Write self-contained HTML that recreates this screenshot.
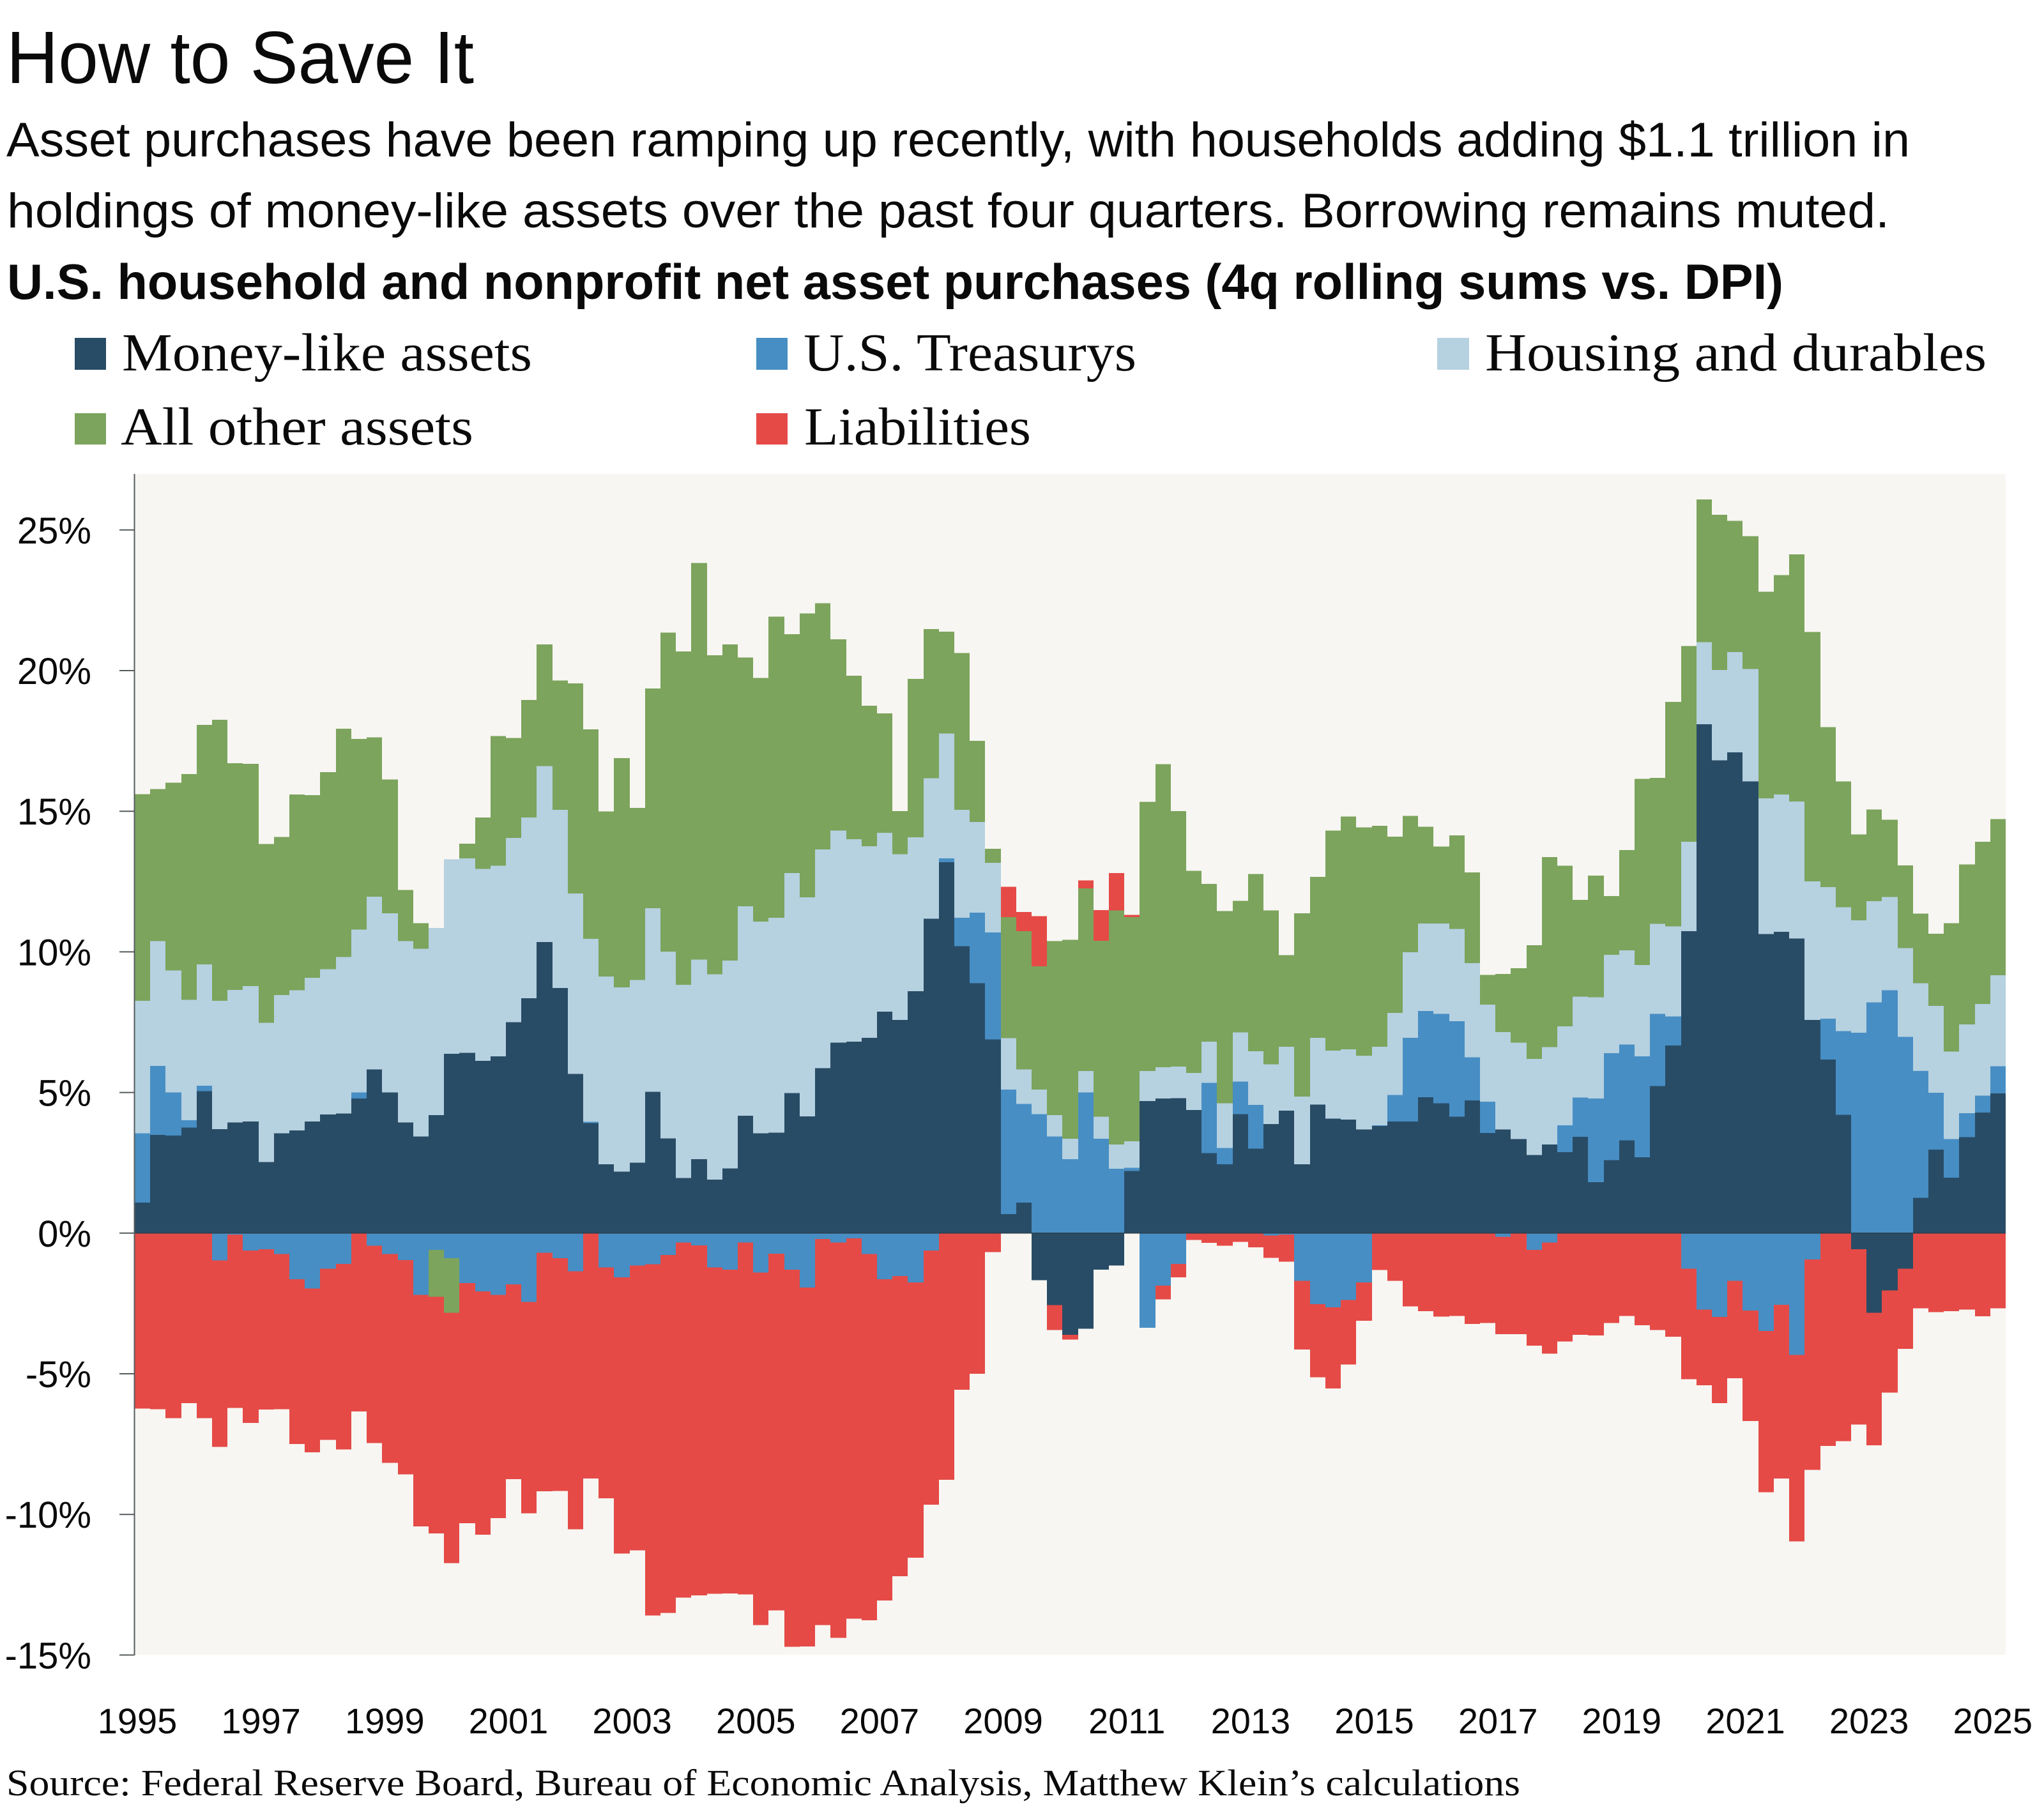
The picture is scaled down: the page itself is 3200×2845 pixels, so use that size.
<!DOCTYPE html>
<html lang="en">
<head>
<meta charset="utf-8">
<title>How to Save It</title>
<style>
html,body{margin:0;padding:0;background:#fff;}
svg{display:block;}
.sans{font-family:"Liberation Sans",sans-serif;fill:#0a0a0a;}
.serif{font-family:"Liberation Serif",serif;fill:#0a0a0a;}
</style>
</head>
<body>
<svg id="chart" xmlns="http://www.w3.org/2000/svg" width="3200" height="2845" viewBox="0 0 3200 2845">
  <rect x="0" y="0" width="3200" height="2845" fill="#ffffff"/>
  <text class="sans" x="10" y="130" font-size="116" textLength="732" lengthAdjust="spacingAndGlyphs">How to Save It</text>
  <text class="sans" x="10" y="245" font-size="76" textLength="2980" lengthAdjust="spacingAndGlyphs">Asset purchases have been ramping up recently, with households adding $1.1 trillion in</text>
  <text class="sans" x="11" y="356" font-size="76" textLength="2947" lengthAdjust="spacingAndGlyphs">holdings of money-like assets over the past four quarters. Borrowing remains muted.</text>
  <text class="sans" x="11" y="468" font-size="78" font-weight="700" textLength="2781" lengthAdjust="spacingAndGlyphs">U.S. household and nonprofit net asset purchases (4q rolling sums vs. DPI)</text>

  <g>
    <g>
      <rect x="117" y="529" width="49" height="50" fill="#294c66"/>
      <text class="serif" x="191" y="580" font-size="84" textLength="642" lengthAdjust="spacingAndGlyphs">Money-like assets</text>
    </g>
    <g>
      <rect x="1184" y="529" width="49" height="50" fill="#478ec4"/>
      <text class="serif" x="1258" y="580" font-size="84" textLength="521" lengthAdjust="spacingAndGlyphs">U.S. Treasurys</text>
    </g>
    <g>
      <rect x="2250" y="529" width="50" height="50" fill="#b6d1e0"/>
      <text class="serif" x="2325" y="580" font-size="84" textLength="785" lengthAdjust="spacingAndGlyphs">Housing and durables</text>
    </g>
    <g>
      <rect x="117" y="647" width="49" height="49" fill="#7ca45c"/>
      <text class="serif" x="189" y="696" font-size="84" textLength="552" lengthAdjust="spacingAndGlyphs">All other assets</text>
    </g>
    <g>
      <rect x="1184" y="647" width="49" height="49" fill="#e54a46"/>
      <text class="serif" x="1259" y="696" font-size="84" textLength="355" lengthAdjust="spacingAndGlyphs">Liabilities</text>
    </g>
  </g>

  <rect x="211" y="742" width="2929" height="1849" fill="#f7f6f2"/>
  <g id="bars" shape-rendering="crispEdges"></g>
  <g id="axes"></g>

  <text class="serif" x="10" y="2811" font-size="58" textLength="2370" lengthAdjust="spacingAndGlyphs">Source: Federal Reserve Board, Bureau of Economic Analysis, Matthew Klein’s calculations</text>
</svg>
<script>
const firstYear = 1995;
const quartersPerYear = 4;
const xTickYears = [1995,1997,1999,2001,2003,2005,2007,2009,2011,2013,2015,2017,2019,2021,2023,2025];
const yTickValues = [25,20,15,10,5,0,-5,-10,-15];

const moneyLike = [
1.09,3.49,3.47,3.75,5.05,3.70,3.93,3.97,2.53,3.55,
3.65,3.97,4.22,4.25,4.79,5.82,5.00,3.94,3.44,4.20,
6.38,6.41,6.13,6.28,7.50,8.35,10.35,8.71,5.66,3.91,
2.45,2.19,2.51,5.03,3.37,1.96,2.63,1.90,2.30,4.17,
3.55,3.57,4.98,4.15,5.86,6.77,6.81,6.94,7.88,7.58,
8.60,11.18,13.19,10.20,8.89,6.89,0.68,1.09,-1.67,-2.56,
-3.62,-3.40,-1.30,-1.15,2.21,4.70,4.79,4.80,4.38,2.85,
2.45,4.23,3.00,3.88,4.35,2.45,4.57,4.07,4.04,3.68,
3.81,3.97,3.97,4.83,4.62,4.14,4.72,3.56,3.69,3.35,
2.78,3.15,2.88,3.43,1.81,2.60,3.30,2.70,5.23,6.67,
10.74,18.09,16.81,17.09,16.06,10.63,10.71,10.47,7.58,6.17,
4.21,-0.57,-2.83,-2.04,-1.26,1.26,2.97,1.97,3.41,4.29,4.97];

const treasurys = [
2.46,2.45,1.53,0.26,0.19,-0.97,-0.05,-0.62,-0.57,-0.74,
-1.64,-1.97,-1.27,-1.09,0.21,-0.45,-0.74,-0.96,-2.19,-0.60,
-0.89,-1.78,-2.07,-2.19,-1.82,-2.44,-0.70,-0.89,-1.36,0.05,
-1.22,-1.57,-1.15,-1.11,-0.78,-0.33,-0.44,-1.22,-1.30,-0.33,
-1.40,-0.73,-1.30,-1.93,-0.21,-0.33,-0.19,-0.74,-1.64,-1.53,
-1.75,-0.62,0.13,1.01,2.51,3.80,4.43,3.50,4.23,3.44,
2.63,5.00,3.36,2.29,0.11,-3.37,-1.87,-1.10,0,2.49,
0.58,1.16,1.56,-0.08,-0.05,-1.70,-2.53,-2.64,-2.38,-1.75,
0.02,0.94,2.97,3.07,3.17,3.39,1.53,1.11,-0.13,0,
-0.60,-0.33,0.95,1.39,2.98,3.80,3.41,3.58,2.56,1.03,
-1.26,-2.72,-2.98,-1.70,-2.75,-3.48,-2.55,-4.33,-0.94,1.46,
2.97,7.13,8.20,8.64,6.98,4.52,2.02,1.38,0.86,0.60,0.96];

const housingDurables = [
4.71,4.44,4.34,4.28,4.32,4.56,4.72,4.81,4.95,4.92,
4.98,5.11,5.17,5.57,5.79,6.14,6.37,6.44,6.67,6.65,
6.91,6.91,6.82,6.78,6.55,6.43,6.25,6.34,6.41,6.50,
6.67,6.55,6.49,6.52,6.64,6.87,7.10,7.30,7.39,7.45,
7.53,7.64,7.82,7.79,7.78,7.54,7.19,6.82,6.35,5.89,
5.47,4.99,4.44,3.84,3.22,2.47,1.82,1.23,0.88,0.76,
0.73,0.76,0.78,0.86,0.94,1.06,1.11,1.12,1.31,1.47,
1.59,1.75,1.91,2.12,2.28,2.40,2.37,2.42,2.50,2.63,
2.80,2.92,3.05,3.11,3.22,3.29,3.35,3.45,3.46,3.42,
3.41,3.46,3.52,3.59,3.60,3.50,3.34,3.25,3.21,3.21,
3.18,2.92,3.21,3.57,4.00,4.83,4.88,4.88,4.93,4.67,
4.41,3.99,3.60,3.31,3.15,3.10,3.09,3.11,3.15,3.26,3.24];

const otherAssets = [
7.35,5.41,6.67,8.03,8.51,9.99,8.06,7.91,6.36,5.61,
6.96,6.49,7.00,8.11,6.78,5.67,4.76,1.82,0.91,-1.66,
-1.94,0.53,1.83,4.61,3.55,4.17,4.33,4.60,7.48,7.45,
5.87,8.15,6.12,7.82,11.34,11.85,14.10,11.35,11.24,8.85,
8.66,10.71,8.50,10.09,8.75,6.80,5.82,4.99,4.25,1.54,
5.64,5.31,3.62,5.57,2.88,0.50,4.30,4.92,4.38,6.18,
7.07,6.50,6.26,8.32,7.98,9.57,10.77,9.08,7.19,5.61,
6.83,4.68,6.30,5.47,3.25,6.52,5.73,7.82,8.27,8.11,
7.85,6.27,4.84,3.44,2.74,3.32,3.23,1.06,2.06,2.65,
4.05,6.76,5.71,3.44,4.32,2.09,3.57,6.62,5.19,7.98,
6.95,5.08,5.52,4.67,4.72,7.35,7.81,8.78,8.86,5.69,
4.47,3.06,3.26,2.75,2.95,2.48,2.57,4.56,5.69,5.77,5.55];

const liabilities = [
-6.24,-6.26,-6.58,-6.04,-6.58,-6.63,-6.16,-6.13,-5.70,-5.52,
-5.86,-5.82,-6.08,-6.60,-6.34,-7.01,-7.43,-7.62,-8.24,-8.42,
-8.90,-8.53,-8.65,-7.94,-6.93,-7.52,-8.48,-8.28,-9.17,-8.72,
-8.21,-9.82,-10.13,-12.49,-12.72,-12.63,-12.44,-11.60,-11.51,-12.52,
-12.53,-12.68,-13.41,-12.76,-13.72,-14.06,-13.52,-13.02,-11.42,-10.67,
-9.79,-9.03,-8.77,-5.57,-5.00,-0.67,1.08,0.68,1.78,-0.89,
-0.17,0.28,1.08,1.33,0.07,0,-0.49,-0.47,-0.24,-0.34,
-0.45,-0.31,-0.50,-0.80,-0.96,-2.44,-2.60,-2.88,-2.29,-1.36,
-1.31,-1.70,-2.61,-2.77,-2.97,-2.94,-3.23,-3.20,-3.46,-3.59,
-3.40,-3.95,-3.85,-3.61,-3.64,-3.19,-2.94,-3.27,-3.44,-3.68,
-3.93,-2.69,-3.06,-3.46,-3.93,-5.73,-6.17,-6.63,-7.48,-7.57,
-7.39,-6.23,-4.71,-3.63,-2.86,-2.67,-2.81,-2.78,-2.72,-2.96,-2.67];

const seriesNames = ['money-like-assets','treasurys','housing-and-durables','other-assets','liabilities'];
const seriesValues = [moneyLike, treasurys, housingDurables, otherAssets, liabilities];
const seriesColors = ['#294c66','#478ec4','#b6d1e0','#7ca45c','#e54a46'];

const SVG_NS = 'http://www.w3.org/2000/svg';
const plotLeft = 211, plotRight = 3140, plotTop = 742, plotBottom = 2591;
const zeroY = 1930.8, pxPerPercent = 44.04;
const barStep = (plotRight - plotLeft) / moneyLike.length;

function xScale(index) { return plotLeft + index * barStep; }
function yScale(value) { return zeroY - value * pxPerPercent; }

const barsGroup = document.getElementById('bars');
const axesGroup = document.getElementById('axes');

seriesValues.forEach(function (values, s) {
  const group = document.createElementNS(SVG_NS, 'g');
  
  
  group.setAttribute('fill', seriesColors[s]);
  barsGroup.appendChild(group);
  values.forEach(function (value, i) {
    if (!value) return;
    let base = 0;
    for (let k = 0; k < s; k++) {
      const below = seriesValues[k][i];
      if ((below > 0) === (value > 0)) base += below;
    }
    const y0 = yScale(base);
    const y1 = yScale(base + value);
    const x0 = Math.round(xScale(i));
    const x1 = Math.round(xScale(i + 1));
    const rect = document.createElementNS(SVG_NS, 'rect');
    rect.setAttribute('x', x0);
    rect.setAttribute('width', x1 - x0);
    rect.setAttribute('y', Math.min(y0, y1).toFixed(2));
    rect.setAttribute('height', Math.abs(y1 - y0).toFixed(2));
    
    
    group.appendChild(rect);
  });
});

const zeroLine = document.createElementNS(SVG_NS, 'line');
zeroLine.setAttribute('x1', plotLeft);
zeroLine.setAttribute('x2', plotRight);
zeroLine.setAttribute('y1', yScale(0));
zeroLine.setAttribute('y2', yScale(0));
zeroLine.setAttribute('stroke', '#2b3f4e');
zeroLine.setAttribute('stroke-width', '1.5');


axesGroup.appendChild(zeroLine);

const yAxisLine = document.createElementNS(SVG_NS, 'line');
yAxisLine.setAttribute('x1', 210.5);
yAxisLine.setAttribute('x2', 210.5);
yAxisLine.setAttribute('y1', plotTop);
yAxisLine.setAttribute('y2', plotBottom + 1);
yAxisLine.setAttribute('stroke', '#555b5e');
yAxisLine.setAttribute('stroke-width', '2');


axesGroup.appendChild(yAxisLine);

yTickValues.forEach(function (tick) {
  const y = yScale(tick);
  const mark = document.createElementNS(SVG_NS, 'line');
  mark.setAttribute('x1', 187);
  mark.setAttribute('x2', 210);
  mark.setAttribute('y1', y);
  mark.setAttribute('y2', y);
  mark.setAttribute('stroke', '#555b5e');
  mark.setAttribute('stroke-width', '2');
  
  
  axesGroup.appendChild(mark);

  const label = document.createElementNS(SVG_NS, 'text');
  label.setAttribute('x', 143);
  label.setAttribute('y', y + 21);
  label.setAttribute('text-anchor', 'end');
  label.setAttribute('font-size', '58');
  label.setAttribute('class', 'sans');
  
  
  label.textContent = tick + '%';
  axesGroup.appendChild(label);
});

xTickYears.forEach(function (year) {
  const index = (year - firstYear) * quartersPerYear;
  const label = document.createElementNS(SVG_NS, 'text');
  label.setAttribute('x', xScale(index) + 4);
  label.setAttribute('y', 2714);
  label.setAttribute('text-anchor', 'middle');
  label.setAttribute('font-size', '56');
  label.setAttribute('class', 'sans');
  
  
  label.textContent = year;
  axesGroup.appendChild(label);
});
</script>
</body>
</html>
